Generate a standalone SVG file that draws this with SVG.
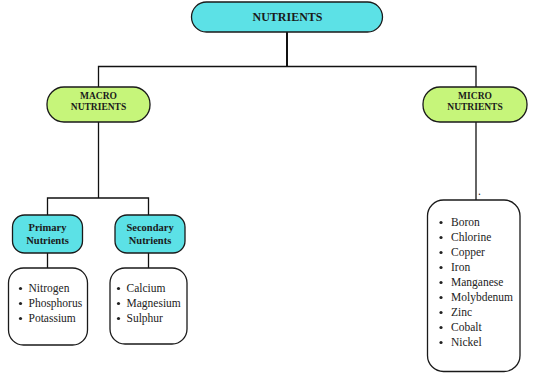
<svg xmlns="http://www.w3.org/2000/svg" width="534" height="376" viewBox="0 0 534 376">
<style>
.cy{fill:#5ce1e6;stroke:#1a1a1a;stroke-width:1.3}
.gr{fill:#c6f57a;stroke:#1a1a1a;stroke-width:1.3}
.wb{fill:#ffffff;stroke:#1a1a1a;stroke-width:1.3}
.h{font-family:"Liberation Serif",serif;font-weight:bold;fill:#1a1a1a;text-anchor:middle}
.t{font-family:"Liberation Serif",serif;font-size:11.5px;fill:#222}
.c line,.c path{stroke:#111;stroke-width:1.3;fill:none}
.b{fill:#222}
</style>
<rect width="534" height="376" fill="#ffffff"/>
<g id="connectors" class="c">
<line x1="287" y1="32" x2="287" y2="66.5" style="stroke-width:2"/>
<path d="M98.5,87 V66.5 H476 V87"/>
<line x1="98.5" y1="122" x2="98.5" y2="198"/>
<path d="M47.5,215 V198 H148.5 V215"/>
<line x1="47.5" y1="253" x2="47.5" y2="268"/>
<line x1="148.5" y1="253" x2="148.5" y2="268"/>
<line x1="476" y1="122" x2="476" y2="200"/>
</g>
<g id="nutrients">
<rect class="cy" x="191.5" y="2" width="191" height="30" rx="15"/>
<text class="h" x="287.5" y="21" font-size="12">NUTRIENTS</text>
</g>
<g id="macro">
<rect class="gr" x="47" y="87" width="103" height="35" rx="17"/>
<text class="h" x="98.5" y="98.5" font-size="9.5">MACRO</text>
<text class="h" x="98.5" y="109.5" font-size="9.5">NUTRIENTS</text>
</g>
<g id="micro">
<rect class="gr" x="423" y="87" width="104" height="35" rx="17"/>
<text class="h" x="475" y="98.5" font-size="9.5">MICRO</text>
<text class="h" x="475" y="109.5" font-size="9.5">NUTRIENTS</text>
</g>
<g id="primary">
<rect class="cy" x="12.5" y="215" width="70" height="38" rx="12"/>
<text class="h" x="47.5" y="231" font-size="10.5">Primary</text>
<text class="h" x="47.5" y="244" font-size="10.5">Nutrients</text>
</g>
<g id="secondary">
<rect class="cy" x="115" y="215" width="70" height="38" rx="12"/>
<text class="h" x="150" y="231" font-size="10.5">Secondary</text>
<text class="h" x="150" y="244" font-size="10.5">Nutrients</text>
</g>
<g id="primary-list">
<rect class="wb" x="8.5" y="268" width="79" height="77" rx="15"/>
<circle class="b" cx="20.5" cy="288.5" r="1.6"/>
<circle class="b" cx="20.5" cy="303.5" r="1.6"/>
<circle class="b" cx="20.5" cy="318.5" r="1.6"/>
<text class="t" x="28.5" y="292">Nitrogen</text>
<text class="t" x="28.5" y="307">Phosphorus</text>
<text class="t" x="28.5" y="322">Potassium</text>
</g>
<g id="secondary-list">
<rect class="wb" x="110" y="268" width="77" height="76" rx="15"/>
<circle class="b" cx="118.5" cy="288.5" r="1.6"/>
<circle class="b" cx="118.5" cy="303.5" r="1.6"/>
<circle class="b" cx="118.5" cy="318.5" r="1.6"/>
<text class="t" x="126.5" y="292">Calcium</text>
<text class="t" x="126.5" y="307">Magnesium</text>
<text class="t" x="126.5" y="322">Sulphur</text>
</g>
<g id="micro-list">
<text class="t" x="478" y="195" font-size="8">.</text>
<rect class="wb" x="427.5" y="200" width="92.5" height="171.5" rx="16"/>
<g class="b">
<circle cx="441" cy="222.5" r="1.6"/>
<circle cx="441" cy="237.5" r="1.6"/>
<circle cx="441" cy="252.5" r="1.6"/>
<circle cx="441" cy="267.5" r="1.6"/>
<circle cx="441" cy="282.5" r="1.6"/>
<circle cx="441" cy="297.5" r="1.6"/>
<circle cx="441" cy="312.5" r="1.6"/>
<circle cx="441" cy="327.5" r="1.6"/>
<circle cx="441" cy="342.5" r="1.6"/>
</g>
<text class="t" x="451" y="226">Boron</text>
<text class="t" x="451" y="241">Chlorine</text>
<text class="t" x="451" y="256">Copper</text>
<text class="t" x="451" y="271">Iron</text>
<text class="t" x="451" y="286">Manganese</text>
<text class="t" x="451" y="301">Molybdenum</text>
<text class="t" x="451" y="316">Zinc</text>
<text class="t" x="451" y="331">Cobalt</text>
<text class="t" x="451" y="346">Nickel</text>
</g>
</svg>
